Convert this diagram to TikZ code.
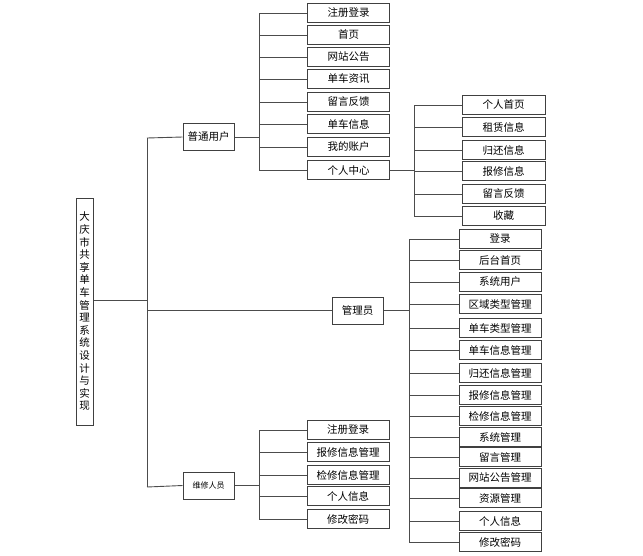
\documentclass[tikz,border=0pt]{standalone}
\usepackage{fontspec}
\setmainfont{Noto Sans CJK SC}
\usetikzlibrary{positioning}

\tikzset{
  box/.style={draw=black!75,line width=1pt,fill=white,inner sep=0pt,
    font=\fontsize{10.5}{12}\selectfont},
  leaf/.style={box,minimum width=82pt,minimum height=19.5pt},
  role/.style={box,minimum width=51pt,minimum height=27pt},
  link/.style={draw=black!70,line width=0.9pt}
}

\begin{document}
\begin{tikzpicture}[x=1pt,y=-1pt]
\useasboundingbox (0,0) rectangle (643,555);

% Root
\node[box,minimum width=17pt,minimum height=227pt,align=center,
  font=\fontsize{10.5}{12.6}\selectfont] (root) at (84.5,311.5)
  {大\\庆\\市\\共\\享\\单\\车\\管\\理\\系\\统\\设\\计\\与\\实\\现};

% Roles
\node[role] (user) at (208.5,137) {普通用户};
\node[role] (admin) at (357.5,310.5) {管理员};
\node[role,font=\fontsize{8}{10}\selectfont] (fix) at (208.5,485.5) {维修人员};

% Main trunk
\coordinate (rj) at (147,300);
\coordinate (ta) at (147,138);
\coordinate (tb) at (147,487);
\draw[link] (root.east |- rj) -- (rj);
\draw[link] (ta) -- (tb);
\draw[link] (ta) -- (user.west);
\draw[link] (ta |- admin.west) -- (admin.west);
\draw[link] (tb) -- (fix.west);

% Ordinary user
\coordinate (ut) at (259,0);
\foreach \n/\t/\y in {u1/注册登录/13, u2/首页/35, u3/网站公告/57, u4/单车资讯/79,
  u5/留言反馈/102, u6/单车信息/124, u7/我的账户/147, u8/个人中心/170}
{
  \node[leaf] (\n) at (348.5,\y) {\t};
  \draw[link] (ut |- \n.west) -- (\n.west);
}
\draw[link] (ut |- u1.west) -- (ut |- u8.west);
\draw[link] (user.east) -- (ut |- user.east);

% Personal center
\coordinate (pt) at (414,0);
\foreach \n/\t/\y in {p1/个人首页/105, p2/租赁信息/127, p3/归还信息/150,
  p4/报修信息/171, p5/留言反馈/194, p6/收藏/216}
{
  \node[leaf,minimum width=83pt] (\n) at (503.5,\y) {\t};
  \draw[link] (pt |- \n.west) -- (\n.west);
}
\draw[link] (pt |- p1.west) -- (pt |- p6.west);
\draw[link] (u8.east) -- (pt |- u8.east);

% Administrator
\coordinate (at) at (409,0);
\foreach \n/\t/\y in {a1/登录/239, a2/后台首页/260, a3/系统用户/282, a4/区域类型管理/304,
  a5/单车类型管理/328, a6/单车信息管理/350, a7/归还信息管理/373, a8/报修信息管理/395,
  a9/检修信息管理/416, a10/系统管理/437, a11/留言管理/457, a12/网站公告管理/478,
  a13/资源管理/498, a14/个人信息/521, a15/修改密码/542}
{
  \node[leaf] (\n) at (500,\y) {\t};
  \draw[link] (at |- \n.west) -- (\n.west);
}
\draw[link] (at |- a1.west) -- (at |- a15.west);
\draw[link] (admin.east) -- (at |- admin.east);

% Repair staff
\coordinate (ft) at (259,0);
\foreach \n/\t/\y in {f1/注册登录/430, f2/报修信息管理/452, f3/检修信息管理/475,
  f4/个人信息/496, f5/修改密码/519}
{
  \node[leaf] (\n) at (348,\y) {\t};
  \draw[link] (ft |- \n.west) -- (\n.west);
}
\draw[link] (ft |- f1.west) -- (ft |- f5.west);
\draw[link] (fix.east) -- (ft |- fix.east);
\end{tikzpicture}
\end{document}
